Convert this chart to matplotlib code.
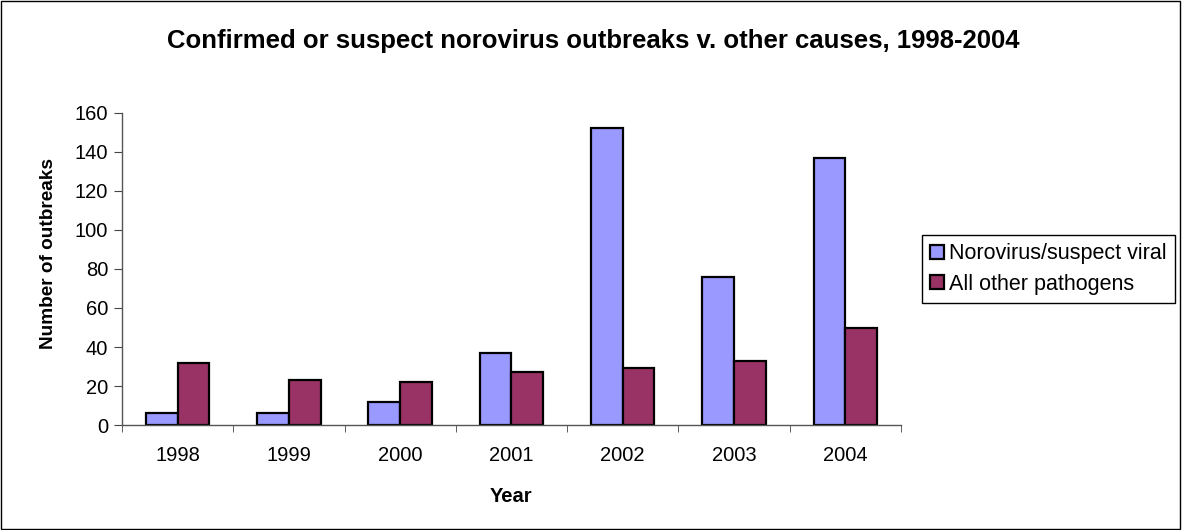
import numpy as np
import matplotlib.pyplot as plt
from matplotlib.patches import Rectangle

years = ['1998', '1999', '2000', '2001', '2002', '2003', '2004']
norovirus = [6, 6, 12, 37, 152, 76, 137]
other = [32, 23, 22, 27, 29, 33, 50]

plt.rcParams['font.family'] = ['Liberation Sans', 'DejaVu Sans']

fig = plt.figure(figsize=(11.82, 5.30), dpi=100)
ax = fig.add_axes([0.1032, 0.198, 0.659, 0.589])

x = np.arange(len(years))
w = 0.285
ax.bar(x - w / 2, norovirus, w, color='#9999ff', edgecolor='black', linewidth=1.6,
       label='Norovirus/suspect viral')
ax.bar(x + w / 2, other, w, color='#993366', edgecolor='black', linewidth=1.6,
       label='All other pathogens')

ax.set_xlim(-0.5, len(years) - 0.5)
ax.set_ylim(0, 160)
ax.set_yticks(range(0, 161, 20))
ax.set_xticks(x)
ax.set_xticklabels(years, fontsize=14.5)
ax.tick_params(axis='x', length=0, pad=15)
ax.set_xticks(np.arange(-0.5, len(years)), minor=True)
ax.tick_params(axis='x', which='minor', length=5, color='#444444')
ax.tick_params(axis='y', labelsize=14.5, length=6, color='#444444', pad=4)

for s in ['top', 'right']:
    ax.spines[s].set_visible(False)
for s in ['left', 'bottom']:
    ax.spines[s].set_color('#555555')
    ax.spines[s].set_linewidth(1)

ax.set_xlabel('Year', fontsize=14.5, fontweight='bold')
ax.xaxis.set_label_coords(0.5, -0.2)
ax.set_ylabel('Number of outbreaks', fontsize=13.7, fontweight='bold')
ax.yaxis.set_label_coords(-0.084, 0.548)

fig.text(0.502, 0.923, 'Confirmed or suspect norovirus outbreaks v. other causes, 1998-2004',
         ha='center', va='center', fontsize=18.5, fontweight='bold')

leg = fig.legend(loc='upper left', bbox_to_anchor=(0.7798, 0.5566), fontsize=15.5,
                 frameon=True, fancybox=False, edgecolor='black', framealpha=1,
                 handlelength=0.67, handleheight=0.62, handletextpad=0.23,
                 borderpad=0.38, labelspacing=0.45, borderaxespad=0)
leg.get_frame().set_linewidth(1)

fig.patches.append(Rectangle((0.001, 0.002), 0.997, 0.996, transform=fig.transFigure,
                             fill=False, edgecolor='black', linewidth=1))

fig.savefig('out.png', dpi=100)
